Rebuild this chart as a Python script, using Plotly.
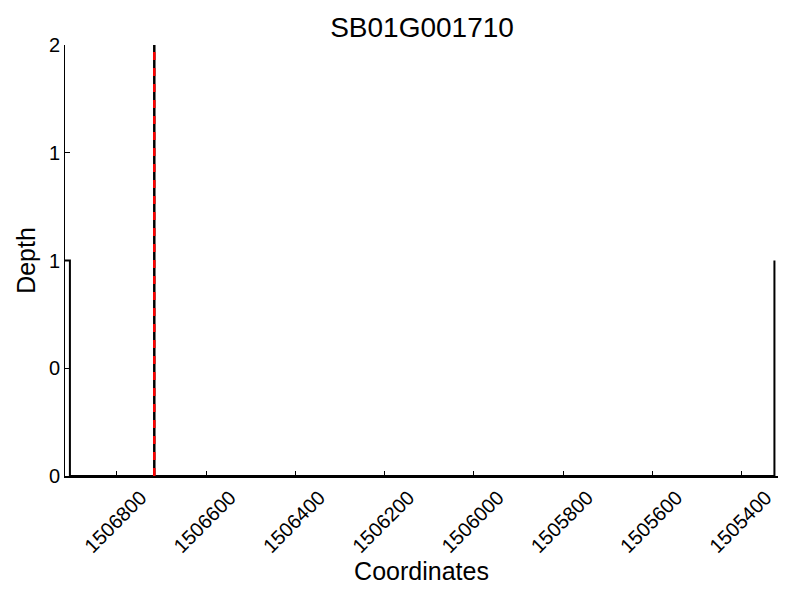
import plotly.graph_objects as go

title_text = "SB01G001710"
# depth profile (step line) along the coordinates
depth_x = [1506916, 1506905, 1506905, 1505327, 1505327]
depth_y = [1, 1, 0, 0, 1]
# marker position (dashed vertical line)
marker_x = 1506716
marker_y = [0, 2]
x_range = [1506916, 1505319]
x_ticks = [1506800, 1506600, 1506400, 1506200, 1506000, 1505800, 1505600, 1505400]
y_ticks = [0, 0.5, 1, 1.5, 2]
y_ticktext = ["0", "0", "1", "1", "2"]

font_family = "Liberation Sans, Arial, Helvetica, sans-serif"

fig = go.Figure()
fig.add_trace(go.Scatter(x=depth_x, y=depth_y, mode="lines",
                         line=dict(color="black", width=2), showlegend=False,
                         hoverinfo="skip"))
fig.add_trace(go.Scatter(x=[marker_x, marker_x], y=marker_y, mode="lines",
                         line=dict(color="black", width=2.5), showlegend=False,
                         hoverinfo="skip"))
fig.add_trace(go.Scatter(x=[marker_x, marker_x], y=marker_y, mode="lines",
                         line=dict(color="red", width=2.5, dash="8px,8px"),
                         showlegend=False, hoverinfo="skip"))

# the page body has an 8px margin, so the figure is offset by 8px
fig.update_layout(
    width=800, height=600,
    margin=dict(l=57, r=30, t=37, b=132, autoexpand=False),
    paper_bgcolor="white", plot_bgcolor="white",
    font=dict(family=font_family, color="black"),
    title=dict(text=title_text, x=0.5175, xanchor="center", y=0.968, yanchor="middle",
               font=dict(size=28, family=font_family, color="black")),
)
fig.update_xaxes(
    range=x_range, tickvals=x_ticks, ticktext=[str(v) for v in x_ticks],
    tickangle=-45, ticks="inside", ticklen=5, tickcolor="black", tickwidth=1,
    ticklabelshift=-24,
    showline=True, linecolor="black", linewidth=2, showgrid=False, zeroline=False,
    automargin=False,
    tickfont=dict(size=20, family=font_family, color="black"),
    title=dict(text="Coordinates", font=dict(size=25, family=font_family, color="black"),
               standoff=0),
)
fig.update_yaxes(
    range=[0, 2], tickvals=y_ticks, ticktext=y_ticktext,
    ticks="inside", ticklen=5, tickcolor="black", tickwidth=1,
    showline=True, linecolor="black", linewidth=1, showgrid=False, zeroline=False,
    automargin=False,
    tickfont=dict(size=20, family=font_family, color="black"),
    title=dict(text="Depth", font=dict(size=25, family=font_family, color="black"),
               standoff=6),
)

fig.write_html("out.html")
